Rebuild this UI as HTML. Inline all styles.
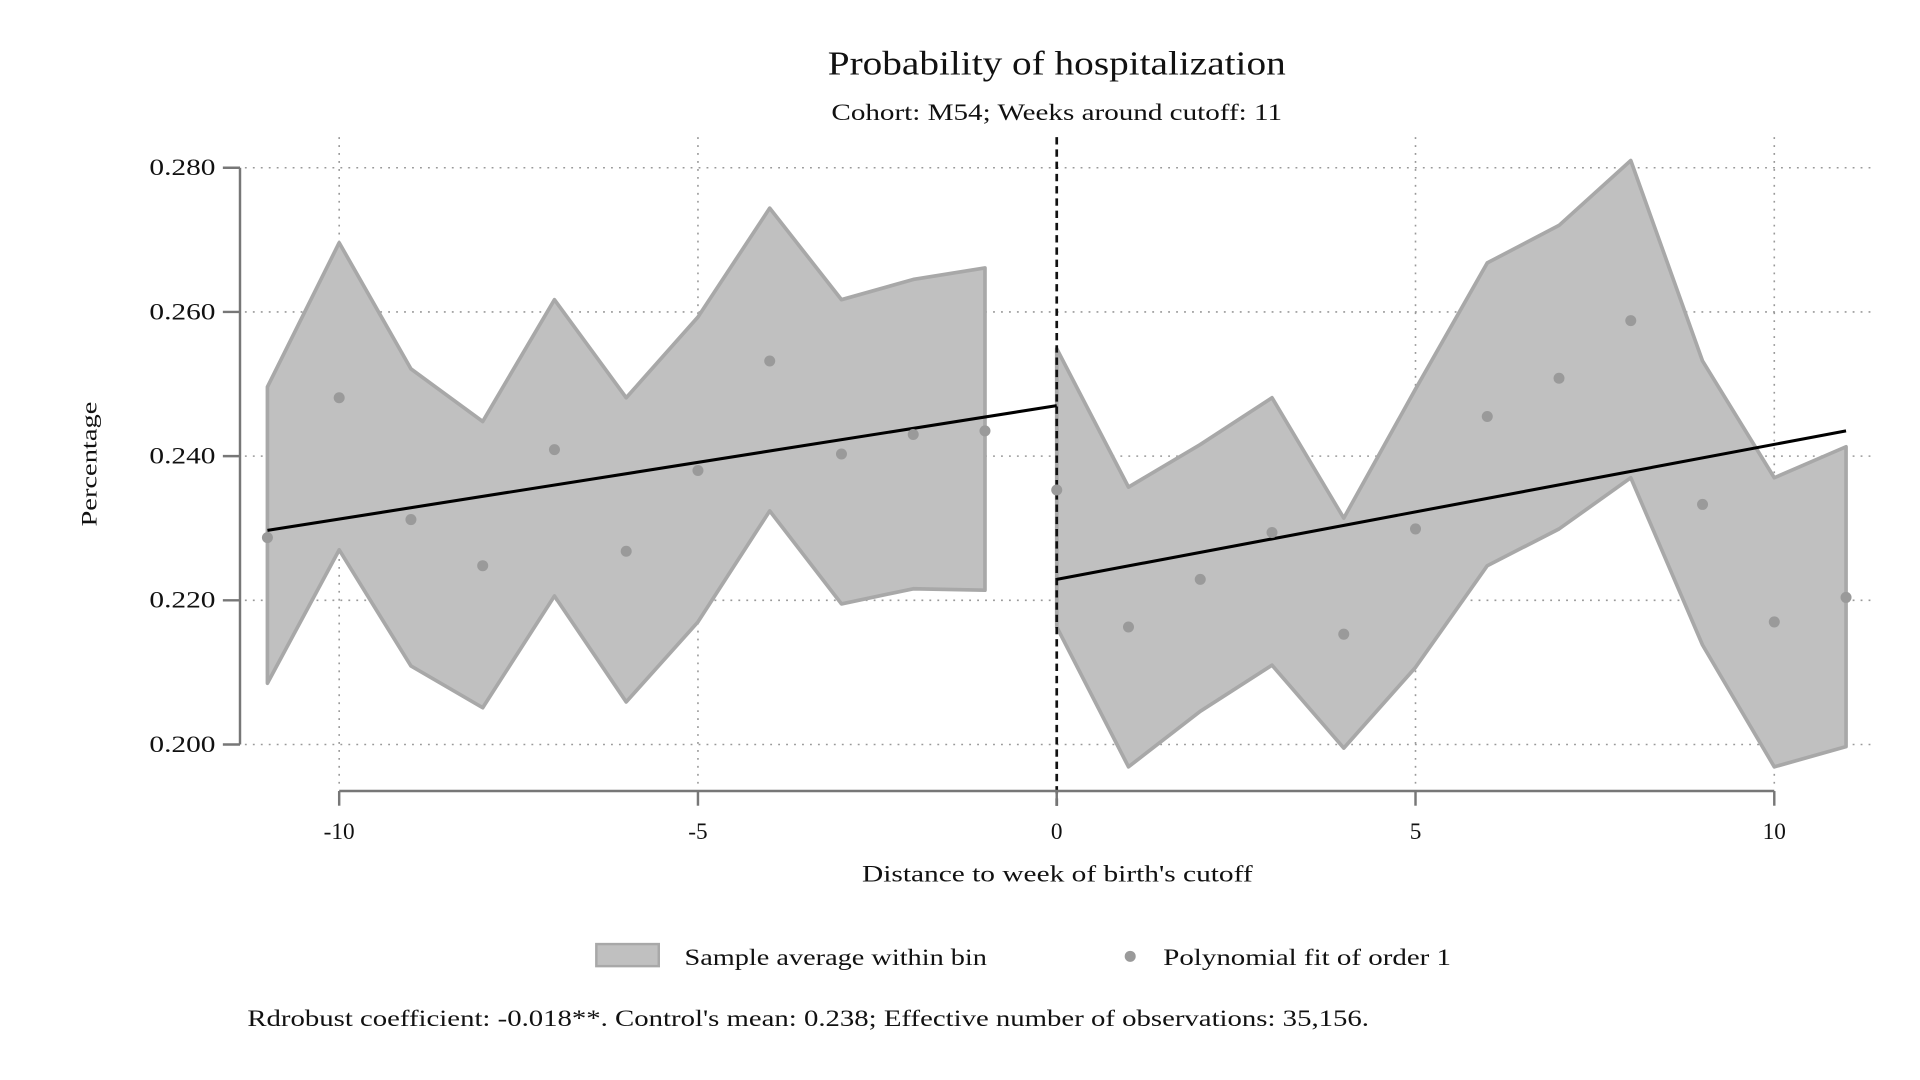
<!DOCTYPE html>
<html><head><meta charset="utf-8"><style>
html,body{margin:0;padding:0;background:#fff;}
svg{display:block;font-family:"Liberation Serif",serif;}
</style></head><body>
<svg id="chart" width="1920" height="1080" viewBox="0 0 1568 882" preserveAspectRatio="none" xmlns="http://www.w3.org/2000/svg">
<rect width="1568" height="882" fill="#fff"/>
<text x="676" y="61" font-size="28" fill="#111" textLength="374" lengthAdjust="spacingAndGlyphs">Probability of hospitalization</text>
<text x="679" y="98" font-size="19" fill="#111" textLength="368" lengthAdjust="spacingAndGlyphs">Cohort: M54; Weeks around cutoff: 11</text>
<g id="grid"></g>
<g id="bands"></g>
<g id="fits"></g>
<g id="dots"></g>
<g id="axes"></g>
<text transform="translate(79,430) rotate(-90)" font-size="18" fill="#111" textLength="102" lengthAdjust="spacingAndGlyphs">Percentage</text>
<text x="704" y="720" font-size="19" fill="#111" textLength="319" lengthAdjust="spacingAndGlyphs">Distance to week of birth's cutoff</text>
<g>
<rect x="487" y="771" width="51" height="18" fill="#c0c0c0" stroke="#a8a8a8" stroke-width="2"/>
<text x="559" y="788" font-size="19" fill="#111" textLength="247" lengthAdjust="spacingAndGlyphs">Sample average within bin</text>
<circle cx="923" cy="781" r="4.5" fill="#9a9a9a"/>
<text x="950" y="788" font-size="19" fill="#111" textLength="235" lengthAdjust="spacingAndGlyphs">Polynomial fit of order 1</text>
</g>
<text x="202" y="838" font-size="19" fill="#111" textLength="916" lengthAdjust="spacingAndGlyphs">Rdrobust coefficient: -0.018**. Control's mean: 0.238; Effective number of observations: 35,156.</text>
</svg>
<script>
const leftX = [-11,-10,-9,-8,-7,-6,-5,-4,-3,-2,-1];
const rightX = [0,1,2,3,4,5,6,7,8,9,10,11];
const leftMean = [0.2287,0.2481,0.2312,0.2248,0.2409,0.2268,0.2380,0.2532,0.2403,0.2430,0.2435];
const leftUpper = [0.2496,0.2696,0.2521,0.2448,0.2617,0.2481,0.2593,0.2744,0.2617,0.2645,0.2661];
const leftLower = [0.2085,0.2270,0.2109,0.2051,0.2206,0.2059,0.2170,0.2324,0.2195,0.2216,0.2214];
const rightMean = [0.2353,0.2163,0.2229,0.2294,0.2153,0.2299,0.2455,0.2508,0.2588,0.2333,0.2170,0.2204];
const rightUpper = [0.2549,0.2357,0.2416,0.2481,0.2314,0.2493,0.2668,0.2720,0.2810,0.2532,0.2370,0.2413];
const rightLower = [0.2163,0.1969,0.2046,0.2110,0.1995,0.2107,0.2248,0.2299,0.2370,0.2138,0.1969,0.1997];
const leftFit = [[-11,0.2297],[0,0.2470]];
const rightFit = [[0,0.2229],[11,0.2435]];
const yTicks = [0.200,0.220,0.240,0.260,0.280];
const yTickLabels = ["0.200","0.220","0.240","0.260","0.280"];
const xTicks = [-10,-5,0,5,10];
const xTickLabels = ["-10","-5","0","5","10"];

const NS="http://www.w3.org/2000/svg";
const xs=v=>863+v*58.6;
const ys=v=>608-(v-0.200)/0.08*471;
function mk(tag,parent,attrs){const e=document.createElementNS(NS,tag);for(const k in attrs)e.setAttribute(k,attrs[k]);document.getElementById(parent).appendChild(e);return e;}

yTicks.forEach((t,i)=>{
  const g=mk('line','grid',{x1:200,x2:1530,y1:ys(t),y2:ys(t),stroke:'#999','stroke-width':1.3,'stroke-dasharray':'1.5 5'});
  
  
});
xTicks.forEach(t=>{
  if(t===0)return;
  const g=mk('line','grid',{x1:xs(t),x2:xs(t),y1:112,y2:640,stroke:'#999','stroke-width':1.3,'stroke-dasharray':'1.5 5'});
  
  
});

function band(xa,up,lo,name){
  const pts=xa.map((x,i)=>xs(x)+','+ys(up[i])).concat(xa.map((x,i)=>[x,i]).reverse().map(([x,i])=>xs(x)+','+ys(lo[i])));
  const p=mk('polygon','bands',{points:pts.join(' '),fill:'#c0c0c0',stroke:'#a8a8a8','stroke-width':3,'stroke-linejoin':'round'});
  
  
}
band(leftX,leftUpper,leftLower,'ci-band-left');
band(rightX,rightUpper,rightLower,'ci-band-right');

const c=mk('line','fits',{x1:xs(0),x2:xs(0),y1:112,y2:660,stroke:'#111','stroke-width':2.2,'stroke-dasharray':'6 4'});



[[leftFit,'fit-line-left'],[rightFit,'fit-line-right']].forEach(([f,n])=>{
  const l=mk('line','fits',{x1:xs(f[0][0]),y1:ys(f[0][1]),x2:xs(f[1][0]),y2:ys(f[1][1]),stroke:'#000','stroke-width':2.5});
  
  
});

leftX.forEach((x,i)=>{
  const d=mk('circle','dots',{cx:xs(x),cy:ys(leftMean[i]),r:4.5,fill:'#9a9a9a'});
  
  
});
rightX.forEach((x,i)=>{
  const d=mk('circle','dots',{cx:xs(x),cy:ys(rightMean[i]),r:4.5,fill:'#9a9a9a'});
  
  
});

const ya=mk('line','axes',{x1:196,x2:196,y1:ys(0.280),y2:ys(0.200),stroke:'#777','stroke-width':2});


yTicks.forEach((t,i)=>{
  const tk=mk('line','axes',{x1:182,x2:196,y1:ys(t),y2:ys(t),stroke:'#777','stroke-width':2});
  
  
  const tx=mk('text','axes',{x:122,y:ys(t)+6,'font-size':19,fill:'#111',textLength:54,lengthAdjust:'spacingAndGlyphs'});
  tx.textContent=yTickLabels[i];
  
  
});
const xa=mk('line','axes',{x1:xs(-10),x2:xs(10),y1:646,y2:646,stroke:'#777','stroke-width':2});


xTicks.forEach((t,i)=>{
  const tk=mk('line','axes',{x1:xs(t),x2:xs(t),y1:646,y2:658,stroke:'#777','stroke-width':2});
  
  
  const tx=mk('text','axes',{x:xs(t),y:685,'text-anchor':'middle','font-size':19,fill:'#111'});
  tx.textContent=xTickLabels[i];
  
  
});
</script>
</body></html>
